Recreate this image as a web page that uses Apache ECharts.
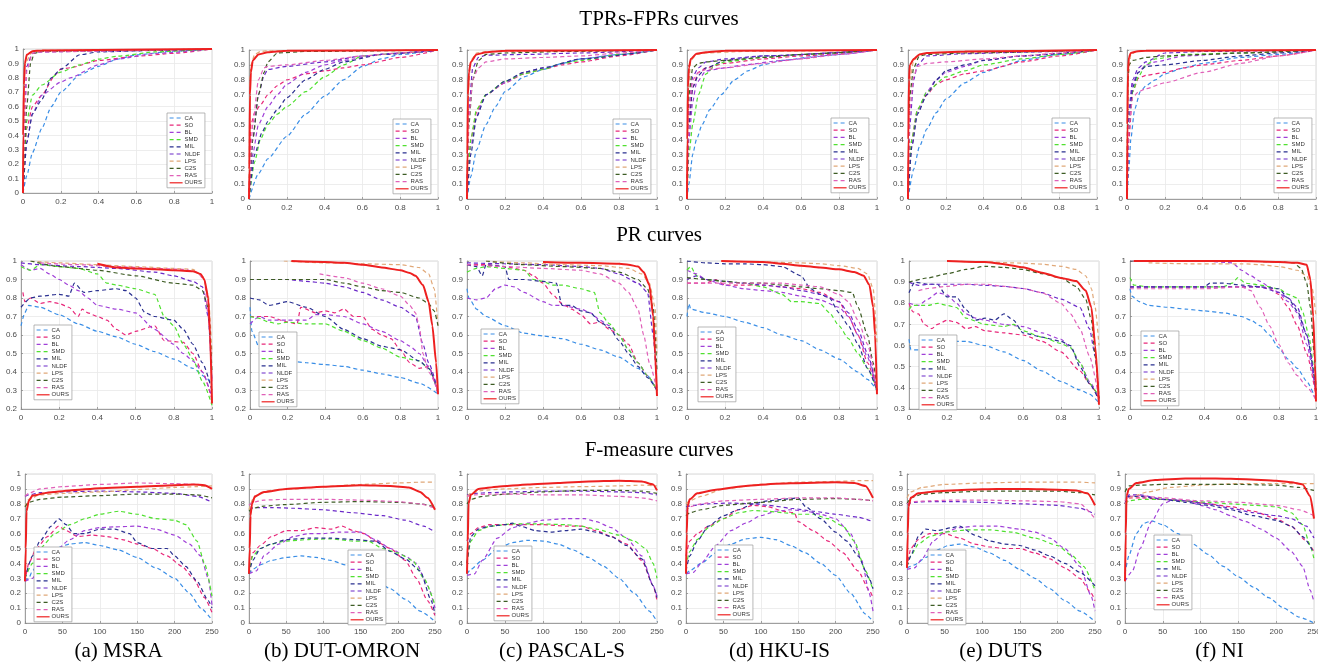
<!DOCTYPE html>
<html><head><meta charset="utf-8">
<script src="https://cdn.jsdelivr.net/npm/echarts@6/dist/echarts.min.js"></script>
<style>html,body{margin:0;padding:0;background:#fff}#c{width:1318px;height:670px}</style>
</head><body><div id="c"></div>
<script>
const methods = ['CA','SO','BL','SMD','MIL','NLDF','LPS','C2S','RAS','OURS'];
const colors = ['#3a8ee6','#e8287a','#a040d8','#50e030','#2a3090','#6a28c8','#e0a878','#3d5c24','#e060b8','#ee2020'];
const datasets = ['(a) MSRA','(b) DUT-OMRON','(c) PASCAL-S','(d) HKU-IS','(e) DUTS','(f) NI'];
const rowTitles = ['TPRs-FPRs curves','PR curves','F-measure curves'];
const xTicksRoc = [0,0.2,0.4,0.6,0.8,1];
const xTicksF = [0,50,100,150,200,250];

// ---------- TPR-FPR (ROC) ----------
const rocMSRA = [
 [[0,0],[0.02,0.12],[0.05,0.28],[0.1,0.45],[0.15,0.6],[0.2,0.7],[0.3,0.82],[0.4,0.88],[0.5,0.93],[0.6,0.96],[0.8,0.985],[1,1]],
 [[0,0],[0.02,0.45],[0.05,0.6],[0.1,0.68],[0.17,0.82],[0.2,0.86],[0.25,0.87],[0.4,0.92],[0.6,0.95],[0.8,0.97],[1,1]],
 [[0,0],[0.02,0.35],[0.05,0.55],[0.1,0.68],[0.2,0.77],[0.25,0.8],[0.4,0.89],[0.5,0.93],[0.7,0.97],[1,1]],
 [[0,0],[0.02,0.5],[0.05,0.68],[0.1,0.75],[0.2,0.84],[0.3,0.89],[0.4,0.93],[0.5,0.95],[0.7,0.98],[1,1]],
 [[0,0],[0.02,0.35],[0.05,0.55],[0.1,0.65],[0.15,0.8],[0.2,0.86],[0.3,0.96],[0.4,0.98],[0.7,0.99],[1,1]],
 [[0,0],[0.01,0.6],[0.02,0.88],[0.05,0.97],[0.1,0.98],[0.4,0.985],[1,1]],
 [[0,0],[0.005,0.6],[0.01,0.9],[0.05,0.98],[0.1,0.99],[1,1]],
 [[0,0],[0.02,0.6],[0.04,0.9],[0.06,0.97],[0.1,0.985],[1,1]],
 [[0,0],[0.01,0.5],[0.02,0.85],[0.05,0.97],[0.1,0.98],[1,1]],
 [[0,0],[0.001,0.4],[0.005,0.75],[0.01,0.9],[0.02,0.96],[0.05,0.985],[0.1,0.99],[1,1]]
];
const rocDUTO = [
 [[0,0],[0.05,0.17],[0.1,0.27],[0.2,0.42],[0.3,0.57],[0.4,0.69],[0.5,0.8],[0.6,0.89],[0.7,0.94],[0.8,0.97],[1,1]],
 [[0,0],[0.01,0.5],[0.03,0.58],[0.06,0.63],[0.1,0.7],[0.15,0.76],[0.2,0.8],[0.3,0.84],[0.4,0.86],[0.5,0.88],[0.6,0.9],[0.8,0.95],[1,1]],
 [[0,0],[0.02,0.3],[0.05,0.5],[0.1,0.62],[0.15,0.7],[0.2,0.77],[0.3,0.85],[0.4,0.9],[0.5,0.93],[0.7,0.97],[1,1]],
 [[0,0],[0.03,0.25],[0.06,0.4],[0.1,0.5],[0.15,0.57],[0.2,0.62],[0.3,0.72],[0.4,0.82],[0.5,0.9],[0.6,0.96],[0.8,0.98],[1,1]],
 [[0,0],[0.03,0.3],[0.07,0.45],[0.1,0.52],[0.15,0.6],[0.2,0.68],[0.3,0.8],[0.4,0.87],[0.5,0.92],[0.7,0.97],[1,1]],
 [[0,0],[0.02,0.4],[0.05,0.7],[0.08,0.83],[0.1,0.87],[0.2,0.89],[0.4,0.92],[0.6,0.96],[0.8,0.98],[1,1]],
 [[0,0],[0.005,0.8],[0.01,0.9],[0.03,0.97],[0.06,0.99],[0.1,0.995],[1,1]],
 [[0,0],[0.02,0.4],[0.05,0.7],[0.08,0.85],[0.1,0.92],[0.15,0.98],[0.3,0.99],[1,1]],
 [[0,0],[0.02,0.5],[0.05,0.8],[0.08,0.88],[0.1,0.89],[0.2,0.9],[0.4,0.93],[0.6,0.96],[0.8,0.98],[1,1]],
 [[0,0],[0.002,0.2],[0.005,0.7],[0.01,0.85],[0.02,0.93],[0.05,0.97],[0.1,0.985],[0.2,0.995],[1,1]]
];
const rocPASCAL = [
 [[0,0],[0.02,0.15],[0.05,0.33],[0.1,0.5],[0.15,0.62],[0.2,0.72],[0.3,0.82],[0.4,0.87],[0.5,0.91],[0.6,0.94],[0.8,0.97],[1,1]],
 [[0,0],[0.02,0.4],[0.05,0.58],[0.08,0.66],[0.1,0.7],[0.2,0.78],[0.3,0.84],[0.4,0.87],[0.5,0.9],[0.6,0.92],[0.8,0.96],[1,1]],
 [[0,0],[0.02,0.35],[0.05,0.55],[0.08,0.65],[0.1,0.7],[0.2,0.78],[0.3,0.85],[0.4,0.88],[0.6,0.94],[0.8,0.97],[1,1]],
 [[0,0],[0.02,0.4],[0.05,0.6],[0.1,0.7],[0.2,0.79],[0.3,0.84],[0.4,0.87],[0.5,0.91],[0.6,0.93],[0.8,0.97],[1,1]],
 [[0,0],[0.02,0.3],[0.05,0.55],[0.1,0.7],[0.2,0.79],[0.3,0.85],[0.4,0.88],[0.6,0.94],[1,1]],
 [[0,0],[0.01,0.6],[0.03,0.88],[0.06,0.95],[0.1,0.965],[0.3,0.97],[0.6,0.98],[1,1]],
 [[0,0],[0.005,0.7],[0.02,0.93],[0.05,0.98],[0.1,0.99],[1,1]],
 [[0,0],[0.01,0.5],[0.03,0.8],[0.06,0.93],[0.1,0.97],[0.2,0.98],[0.5,0.99],[1,1]],
 [[0,0],[0.01,0.55],[0.03,0.8],[0.06,0.88],[0.1,0.92],[0.2,0.94],[0.4,0.95],[0.6,0.96],[0.8,0.98],[1,1]],
 [[0,0],[0.002,0.3],[0.005,0.7],[0.01,0.85],[0.02,0.92],[0.05,0.97],[0.1,0.985],[0.2,0.995],[1,1]]
];
const rocHKU = [
 [[0,0],[0.01,0.1],[0.03,0.3],[0.05,0.4],[0.08,0.5],[0.12,0.6],[0.18,0.7],[0.25,0.8],[0.32,0.86],[0.4,0.9],[0.5,0.93],[0.7,0.96],[1,1]],
 [[0,0],[0.01,0.5],[0.03,0.75],[0.06,0.85],[0.1,0.88],[0.2,0.91],[0.4,0.94],[0.6,0.96],[1,1]],
 [[0,0],[0.01,0.4],[0.03,0.65],[0.05,0.78],[0.1,0.86],[0.2,0.88],[0.3,0.9],[0.5,0.93],[0.8,0.97],[1,1]],
 [[0,0],[0.01,0.3],[0.03,0.5],[0.06,0.7],[0.1,0.84],[0.15,0.9],[0.2,0.92],[0.4,0.95],[0.6,0.97],[1,1]],
 [[0,0],[0.01,0.5],[0.03,0.75],[0.06,0.83],[0.1,0.88],[0.2,0.93],[0.4,0.96],[1,1]],
 [[0,0],[0.01,0.6],[0.03,0.82],[0.06,0.88],[0.1,0.92],[0.2,0.94],[0.4,0.96],[1,1]],
 [[0,0],[0.005,0.7],[0.02,0.93],[0.05,0.97],[0.1,0.98],[0.3,0.99],[1,1]],
 [[0,0],[0.01,0.7],[0.03,0.88],[0.06,0.91],[0.1,0.92],[0.2,0.93],[0.4,0.95],[0.6,0.97],[1,1]],
 [[0,0],[0.01,0.6],[0.03,0.8],[0.06,0.85],[0.1,0.87],[0.2,0.88],[0.4,0.91],[0.6,0.94],[0.8,0.97],[1,1]],
 [[0,0],[0.002,0.4],[0.005,0.75],[0.01,0.88],[0.02,0.94],[0.05,0.975],[0.1,0.985],[0.2,0.995],[1,1]]
];
const rocDUTS = [
 [[0,0],[0.03,0.2],[0.06,0.35],[0.1,0.47],[0.15,0.58],[0.2,0.67],[0.3,0.78],[0.4,0.85],[0.5,0.89],[0.6,0.93],[0.8,0.97],[1,1]],
 [[0,0],[0.02,0.4],[0.05,0.6],[0.1,0.7],[0.15,0.77],[0.2,0.8],[0.3,0.84],[0.4,0.86],[0.6,0.92],[0.8,0.96],[1,1]],
 [[0,0],[0.02,0.35],[0.05,0.58],[0.1,0.72],[0.15,0.8],[0.2,0.85],[0.3,0.89],[0.4,0.93],[0.6,0.96],[1,1]],
 [[0,0],[0.02,0.4],[0.05,0.6],[0.1,0.72],[0.2,0.82],[0.3,0.86],[0.4,0.9],[0.6,0.94],[0.8,0.97],[1,1]],
 [[0,0],[0.02,0.35],[0.05,0.57],[0.1,0.7],[0.15,0.8],[0.2,0.86],[0.3,0.9],[0.4,0.93],[0.6,0.96],[1,1]],
 [[0,0],[0.01,0.5],[0.03,0.8],[0.05,0.9],[0.1,0.96],[0.3,0.975],[0.6,0.985],[1,1]],
 [[0,0],[0.01,0.8],[0.03,0.93],[0.06,0.97],[0.1,0.98],[0.4,0.99],[1,1]],
 [[0,0],[0.01,0.7],[0.03,0.88],[0.06,0.96],[0.1,0.97],[0.3,0.98],[1,1]],
 [[0,0],[0.01,0.6],[0.03,0.82],[0.05,0.89],[0.1,0.91],[0.2,0.92],[0.4,0.94],[0.6,0.96],[0.8,0.98],[1,1]],
 [[0,0],[0.002,0.4],[0.005,0.8],[0.01,0.9],[0.03,0.94],[0.06,0.97],[0.1,0.98],[0.3,0.99],[1,1]]
];
const rocNI = [
 [[0,0],[0.01,0.2],[0.02,0.4],[0.04,0.6],[0.07,0.72],[0.1,0.76],[0.15,0.8],[0.2,0.84],[0.3,0.88],[0.4,0.91],[0.6,0.95],[0.8,0.97],[1,1]],
 [[0,0],[0.01,0.4],[0.03,0.72],[0.06,0.81],[0.1,0.83],[0.2,0.85],[0.3,0.88],[0.4,0.9],[0.6,0.93],[0.8,0.96],[1,1]],
 [[0,0],[0.01,0.5],[0.03,0.78],[0.06,0.85],[0.1,0.9],[0.15,0.92],[0.3,0.96],[0.6,0.98],[1,1]],
 [[0,0],[0.01,0.5],[0.03,0.72],[0.06,0.82],[0.1,0.9],[0.15,0.94],[0.3,0.97],[0.6,0.98],[1,1]],
 [[0,0],[0.01,0.5],[0.03,0.75],[0.06,0.85],[0.1,0.89],[0.2,0.9],[0.4,0.93],[0.6,0.96],[0.8,0.98],[1,1]],
 [[0,0],[0.01,0.6],[0.03,0.8],[0.06,0.88],[0.1,0.92],[0.2,0.98],[0.4,0.99],[1,1]],
 [[0,0],[0.005,0.8],[0.02,0.97],[0.05,0.99],[0.1,0.995],[1,1]],
 [[0,0],[0.005,0.8],[0.01,0.9],[0.03,0.93],[0.1,0.95],[0.2,0.96],[0.4,0.97],[0.6,0.98],[1,1]],
 [[0,0],[0.01,0.5],[0.03,0.68],[0.06,0.72],[0.1,0.74],[0.2,0.78],[0.4,0.85],[0.6,0.91],[0.8,0.96],[1,1]],
 [[0,0],[0.002,0.5],[0.005,0.85],[0.01,0.95],[0.02,0.98],[0.05,0.99],[0.1,0.995],[1,1]]
];

// ---------- PR ----------
const prMSRA = [
 [[0,0.65],[0.02,0.72],[0.04,0.76],[0.1,0.75],[0.2,0.71],[0.3,0.66],[0.4,0.62],[0.5,0.59],[0.6,0.55],[0.7,0.51],[0.8,0.47],[0.9,0.42],[0.97,0.37],[1,0.33]],
 [[0.01,0.83],[0.02,0.78],[0.05,0.8],[0.1,0.77],[0.15,0.78],[0.2,0.77],[0.25,0.75],[0.3,0.7],[0.32,0.74],[0.35,0.72],[0.4,0.7],[0.45,0.68],[0.5,0.63],[0.55,0.6],[0.6,0.62],[0.7,0.65],[0.75,0.57],[0.85,0.56],[0.9,0.5],[0.95,0.4],[1,0.25]],
 [[0,0.98],[0.05,0.95],[0.1,0.96],[0.15,0.93],[0.2,0.9],[0.25,0.87],[0.3,0.84],[0.35,0.8],[0.4,0.76],[0.5,0.74],[0.6,0.72],[0.7,0.63],[0.8,0.55],[0.85,0.5],[0.9,0.46],[0.95,0.4],[1,0.26]],
 [[0,0.97],[0.02,0.96],[0.05,0.95],[0.1,0.98],[0.2,0.97],[0.3,0.96],[0.4,0.93],[0.45,0.88],[0.5,0.87],[0.6,0.85],[0.7,0.82],[0.75,0.7],[0.8,0.65],[0.85,0.55],[0.9,0.47],[0.95,0.35],[1,0.22]],
 [[0,0.75],[0.05,0.8],[0.1,0.81],[0.2,0.82],[0.25,0.81],[0.28,0.88],[0.33,0.83],[0.4,0.84],[0.5,0.85],[0.55,0.84],[0.6,0.8],[0.65,0.72],[0.7,0.7],[0.8,0.68],[0.85,0.63],[0.9,0.55],[0.95,0.45],[1,0.3]],
 [[0,0.99],[0.1,0.98],[0.3,0.97],[0.5,0.96],[0.7,0.94],[0.8,0.92],[0.9,0.89],[0.95,0.86],[0.98,0.7],[1,0.35]],
 [[0.05,1],[0.2,0.99],[0.4,0.98],[0.6,0.97],[0.8,0.96],[0.9,0.955],[0.95,0.92],[0.98,0.82],[1,0.5]],
 [[0.05,1],[0.2,0.97],[0.4,0.95],[0.6,0.92],[0.8,0.88],[0.9,0.87],[0.95,0.84],[0.98,0.75],[1,0.4]],
 [[0.1,0.99],[0.3,0.98],[0.5,0.97],[0.7,0.96],[0.85,0.955],[0.92,0.94],[0.96,0.9],[0.98,0.7],[1,0.35]],
 [[0.4,0.985],[0.5,0.965],[0.6,0.96],[0.7,0.955],[0.8,0.95],[0.9,0.945],[0.94,0.93],[0.96,0.9],[0.98,0.8],[0.99,0.6],[1,0.23]]
];
const prDUTO = [
 [[0,0.75],[0.01,0.62],[0.05,0.53],[0.1,0.5],[0.2,0.46],[0.3,0.45],[0.4,0.44],[0.5,0.43],[0.6,0.41],[0.7,0.39],[0.8,0.37],[0.9,0.34],[1,0.28]],
 [[0,0.7],[0.1,0.7],[0.2,0.67],[0.25,0.66],[0.27,0.75],[0.35,0.72],[0.4,0.73],[0.45,0.72],[0.5,0.74],[0.55,0.7],[0.6,0.7],[0.65,0.63],[0.7,0.6],[0.75,0.58],[0.8,0.52],[0.85,0.45],[0.9,0.42],[0.95,0.43],[1,0.29]],
 [[0,0.66],[0.05,0.7],[0.1,0.68],[0.2,0.68],[0.3,0.68],[0.35,0.71],[0.4,0.71],[0.5,0.7],[0.6,0.66],[0.7,0.62],[0.8,0.57],[0.85,0.54],[0.9,0.5],[0.95,0.43],[1,0.28]],
 [[0,0.7],[0.05,0.69],[0.1,0.67],[0.15,0.66],[0.2,0.67],[0.3,0.66],[0.4,0.66],[0.5,0.62],[0.6,0.57],[0.7,0.53],[0.8,0.48],[0.9,0.46],[0.95,0.42],[1,0.3]],
 [[0,0.8],[0.05,0.79],[0.1,0.76],[0.2,0.78],[0.3,0.75],[0.4,0.7],[0.5,0.63],[0.6,0.58],[0.7,0.54],[0.75,0.53],[0.8,0.52],[0.9,0.46],[0.95,0.42],[1,0.3]],
 [[0,0.9],[0.2,0.9],[0.3,0.89],[0.4,0.88],[0.5,0.86],[0.6,0.83],[0.7,0.79],[0.8,0.75],[0.88,0.7],[0.92,0.55],[0.95,0.45],[1,0.3]],
 [[0.18,1],[0.4,0.99],[0.6,0.985],[0.8,0.98],[0.9,0.965],[0.95,0.93],[0.98,0.85],[1,0.65]],
 [[0,0.9],[0.2,0.9],[0.4,0.9],[0.5,0.88],[0.6,0.86],[0.7,0.84],[0.8,0.83],[0.9,0.8],[0.95,0.77],[0.98,0.73],[1,0.65]],
 [[0.37,0.93],[0.5,0.91],[0.6,0.88],[0.7,0.85],[0.8,0.81],[0.85,0.76],[0.88,0.72],[0.9,0.65],[0.92,0.5],[0.95,0.4],[1,0.3]],
 [[0.22,1],[0.4,0.995],[0.5,0.99],[0.6,0.98],[0.7,0.965],[0.8,0.95],[0.85,0.935],[0.88,0.92],[0.92,0.87],[0.95,0.78],[0.97,0.65],[0.99,0.45],[1,0.28]]
];
const prPASCAL = [
 [[0,0.85],[0.01,0.8],[0.05,0.74],[0.1,0.7],[0.2,0.65],[0.3,0.61],[0.4,0.595],[0.5,0.58],[0.6,0.55],[0.7,0.52],[0.8,0.48],[0.9,0.42],[0.95,0.38],[1,0.3]],
 [[0,0.98],[0.1,0.98],[0.2,0.97],[0.3,0.95],[0.35,0.92],[0.4,0.88],[0.45,0.82],[0.5,0.77],[0.55,0.74],[0.6,0.71],[0.65,0.66],[0.7,0.67],[0.75,0.63],[0.8,0.6],[0.85,0.55],[0.9,0.45],[0.95,0.38],[1,0.3]],
 [[0,0.8],[0.05,0.79],[0.1,0.8],[0.15,0.85],[0.2,0.87],[0.25,0.86],[0.3,0.83],[0.4,0.78],[0.45,0.76],[0.5,0.76],[0.6,0.74],[0.65,0.72],[0.7,0.68],[0.75,0.65],[0.8,0.6],[0.85,0.52],[0.9,0.45],[0.95,0.38],[1,0.3]],
 [[0,0.94],[0.05,0.96],[0.1,0.97],[0.2,0.96],[0.3,0.95],[0.35,0.9],[0.4,0.89],[0.45,0.87],[0.5,0.87],[0.6,0.85],[0.67,0.83],[0.7,0.72],[0.75,0.66],[0.8,0.6],[0.85,0.52],[0.9,0.45],[0.95,0.38],[1,0.3]],
 [[0,0.98],[0.05,0.97],[0.08,0.92],[0.1,0.98],[0.2,0.97],[0.22,0.9],[0.3,0.9],[0.4,0.89],[0.47,0.88],[0.5,0.76],[0.55,0.76],[0.6,0.73],[0.65,0.72],[0.7,0.67],[0.75,0.64],[0.8,0.57],[0.85,0.5],[0.9,0.43],[0.95,0.37],[1,0.3]],
 [[0,0.99],[0.2,0.985],[0.4,0.98],[0.6,0.97],[0.7,0.96],[0.8,0.93],[0.9,0.88],[0.95,0.83],[0.98,0.6],[1,0.3]],
 [[0.1,1],[0.3,0.99],[0.5,0.98],[0.7,0.975],[0.85,0.96],[0.92,0.93],[0.96,0.88],[0.99,0.75],[1,0.5]],
 [[0.1,1],[0.3,0.98],[0.5,0.97],[0.7,0.96],[0.8,0.94],[0.9,0.9],[0.95,0.85],[0.98,0.75],[1,0.4]],
 [[0,0.98],[0.2,0.97],[0.4,0.96],[0.6,0.95],[0.7,0.93],[0.8,0.88],[0.85,0.83],[0.9,0.74],[0.93,0.6],[0.96,0.45],[1,0.3]],
 [[0.4,0.995],[0.6,0.99],[0.8,0.985],[0.85,0.98],[0.9,0.97],[0.93,0.94],[0.96,0.87],[0.98,0.7],[0.99,0.5],[1,0.27]]
];
const prHKU = [
 [[0,0.7],[0.01,0.77],[0.02,0.74],[0.1,0.72],[0.2,0.7],[0.3,0.67],[0.4,0.64],[0.5,0.6],[0.6,0.57],[0.7,0.52],[0.8,0.47],[0.9,0.4],[0.95,0.36],[1,0.3]],
 [[0,0.88],[0.05,0.88],[0.1,0.88],[0.15,0.9],[0.2,0.87],[0.3,0.87],[0.4,0.87],[0.5,0.86],[0.6,0.85],[0.7,0.83],[0.8,0.78],[0.85,0.7],[0.9,0.6],[0.95,0.45],[1,0.3]],
 [[0,0.95],[0.05,0.93],[0.1,0.9],[0.2,0.87],[0.3,0.85],[0.4,0.84],[0.5,0.83],[0.6,0.81],[0.7,0.79],[0.8,0.75],[0.85,0.7],[0.9,0.6],[0.95,0.48],[1,0.3]],
 [[0,0.95],[0.02,0.97],[0.05,0.92],[0.1,0.9],[0.2,0.89],[0.3,0.88],[0.4,0.86],[0.5,0.82],[0.55,0.78],[0.6,0.78],[0.7,0.77],[0.75,0.72],[0.8,0.65],[0.85,0.58],[0.9,0.5],[0.95,0.42],[1,0.3]],
 [[0,1],[0.1,0.99],[0.2,0.985],[0.3,0.985],[0.4,0.98],[0.5,0.97],[0.6,0.92],[0.65,0.85],[0.7,0.82],[0.75,0.8],[0.8,0.72],[0.85,0.65],[0.9,0.55],[0.95,0.42],[1,0.3]],
 [[0,0.9],[0.05,0.92],[0.1,0.9],[0.2,0.89],[0.3,0.88],[0.4,0.87],[0.5,0.86],[0.6,0.84],[0.7,0.82],[0.8,0.78],[0.85,0.72],[0.9,0.63],[0.95,0.5],[1,0.3]],
 [[0.2,1],[0.4,0.995],[0.6,0.99],[0.7,0.985],[0.8,0.975],[0.9,0.96],[0.95,0.93],[0.98,0.85],[1,0.55]],
 [[0,0.91],[0.1,0.9],[0.2,0.89],[0.3,0.88],[0.4,0.88],[0.5,0.87],[0.6,0.86],[0.7,0.85],[0.8,0.84],[0.87,0.83],[0.9,0.75],[0.95,0.6],[0.98,0.45],[1,0.3]],
 [[0,0.88],[0.1,0.88],[0.2,0.88],[0.3,0.88],[0.4,0.88],[0.5,0.88],[0.6,0.87],[0.7,0.86],[0.8,0.82],[0.85,0.78],[0.9,0.68],[0.95,0.55],[1,0.3]],
 [[0.18,1],[0.4,0.995],[0.5,0.985],[0.6,0.975],[0.7,0.965],[0.8,0.955],[0.88,0.94],[0.93,0.92],[0.96,0.87],[0.98,0.75],[0.99,0.6],[1,0.28]]
];
const prDUTS = [
 [[0,0.63],[0.01,0.58],[0.05,0.58],[0.1,0.6],[0.2,0.62],[0.3,0.62],[0.4,0.6],[0.5,0.57],[0.6,0.53],[0.7,0.48],[0.8,0.43],[0.9,0.39],[0.95,0.37],[1,0.33]],
 [[0,0.8],[0.02,0.76],[0.05,0.75],[0.08,0.7],[0.12,0.68],[0.15,0.7],[0.2,0.72],[0.25,0.71],[0.3,0.68],[0.35,0.69],[0.4,0.67],[0.5,0.66],[0.6,0.65],[0.7,0.62],[0.8,0.57],[0.9,0.48],[0.95,0.42],[1,0.35]],
 [[0,0.8],[0.05,0.79],[0.1,0.82],[0.15,0.85],[0.2,0.84],[0.25,0.8],[0.3,0.75],[0.35,0.73],[0.4,0.72],[0.5,0.7],[0.6,0.69],[0.7,0.66],[0.8,0.63],[0.85,0.59],[0.9,0.52],[0.95,0.43],[1,0.35]],
 [[0,0.77],[0.02,0.79],[0.1,0.79],[0.15,0.8],[0.2,0.79],[0.25,0.78],[0.3,0.73],[0.4,0.7],[0.5,0.69],[0.55,0.7],[0.6,0.67],[0.7,0.64],[0.8,0.61],[0.85,0.59],[0.9,0.52],[0.95,0.42],[1,0.36]],
 [[0,0.85],[0.03,0.9],[0.1,0.89],[0.15,0.89],[0.2,0.83],[0.25,0.83],[0.3,0.77],[0.35,0.72],[0.4,0.73],[0.45,0.72],[0.5,0.75],[0.55,0.72],[0.6,0.66],[0.7,0.64],[0.8,0.62],[0.85,0.6],[0.9,0.5],[0.95,0.42],[1,0.34]],
 [[0,0.9],[0.05,0.885],[0.1,0.89],[0.2,0.89],[0.3,0.89],[0.4,0.885],[0.5,0.88],[0.6,0.87],[0.7,0.85],[0.8,0.82],[0.9,0.78],[0.95,0.68],[0.98,0.55],[1,0.35]],
 [[0.2,1],[0.4,0.995],[0.6,0.99],[0.7,0.985],[0.8,0.975],[0.88,0.96],[0.93,0.93],[0.96,0.87],[0.98,0.78],[1,0.6]],
 [[0,0.9],[0.1,0.92],[0.2,0.94],[0.3,0.96],[0.4,0.975],[0.5,0.97],[0.6,0.96],[0.7,0.94],[0.8,0.92],[0.88,0.88],[0.93,0.82],[0.96,0.72],[0.98,0.55],[1,0.35]],
 [[0.05,0.86],[0.1,0.87],[0.2,0.88],[0.3,0.89],[0.4,0.89],[0.5,0.88],[0.6,0.87],[0.7,0.85],[0.8,0.8],[0.85,0.75],[0.9,0.68],[0.95,0.55],[1,0.35]],
 [[0.2,1],[0.4,0.995],[0.5,0.985],[0.6,0.97],[0.7,0.945],[0.8,0.92],[0.88,0.905],[0.93,0.86],[0.96,0.78],[0.98,0.6],[1,0.32]]
];
const prNI = [
 [[0,0.85],[0.01,0.81],[0.05,0.78],[0.1,0.76],[0.2,0.75],[0.3,0.74],[0.4,0.73],[0.5,0.72],[0.6,0.7],[0.65,0.68],[0.7,0.65],[0.75,0.6],[0.8,0.53],[0.85,0.47],[0.9,0.42],[0.95,0.35],[1,0.25]],
 [[0,0.86],[0.2,0.86],[0.4,0.86],[0.6,0.86],[0.7,0.86],[0.75,0.85],[0.8,0.82],[0.85,0.75],[0.9,0.65],[0.95,0.5],[1,0.27]],
 [[0,1],[0.2,1],[0.4,1],[0.55,0.99],[0.6,0.95],[0.65,0.92],[0.7,0.89],[0.75,0.86],[0.8,0.83],[0.85,0.78],[0.9,0.72],[0.95,0.55],[1,0.28]],
 [[0,0.91],[0.02,0.87],[0.1,0.86],[0.3,0.86],[0.5,0.86],[0.55,0.88],[0.58,0.91],[0.62,0.88],[0.7,0.87],[0.8,0.85],[0.85,0.82],[0.9,0.8],[0.93,0.72],[0.96,0.6],[1,0.3]],
 [[0,0.86],[0.2,0.86],[0.4,0.86],[0.43,0.88],[0.5,0.88],[0.6,0.87],[0.7,0.86],[0.8,0.85],[0.85,0.8],[0.9,0.73],[0.95,0.6],[1,0.3]],
 [[0,0.86],[0.2,0.86],[0.4,0.86],[0.6,0.86],[0.7,0.86],[0.8,0.83],[0.85,0.8],[0.9,0.75],[0.95,0.6],[1,0.3]],
 [[0.1,0.99],[0.3,0.985],[0.5,0.985],[0.6,0.985],[0.7,0.98],[0.8,0.97],[0.9,0.95],[0.95,0.92],[0.98,0.85],[1,0.7]],
 [[0,1],[0.3,1],[0.6,1],[0.8,0.995],[0.88,0.99],[0.92,0.96],[0.95,0.88],[0.97,0.75],[0.99,0.5],[1,0.3]],
 [[0,0.85],[0.2,0.85],[0.4,0.85],[0.6,0.86],[0.65,0.84],[0.7,0.75],[0.75,0.65],[0.8,0.55],[0.85,0.45],[0.9,0.38],[0.95,0.32],[1,0.25]],
 [[0.02,1],[0.3,1],[0.6,1],[0.8,0.995],[0.9,0.99],[0.95,0.98],[0.97,0.9],[0.985,0.7],[0.995,0.45],[1,0.24]]
];

// ---------- F-measure ----------
const fMSRA = [
 [[0,0.28],[5,0.3],[10,0.35],[20,0.42],[40,0.5],[60,0.53],[80,0.54],[100,0.52],[125,0.49],[150,0.44],[175,0.37],[200,0.3],[220,0.2],[235,0.1],[250,0.02]],
 [[0,0.28],[5,0.4],[15,0.5],[30,0.58],[45,0.65],[55,0.62],[70,0.58],[90,0.59],[110,0.58],[130,0.56],[150,0.53],[170,0.5],[190,0.45],[210,0.38],[225,0.3],[240,0.17],[250,0.07]],
 [[0,0.28],[10,0.3],[20,0.38],[40,0.48],[60,0.56],[80,0.62],[100,0.64],[120,0.645],[150,0.65],[175,0.63],[200,0.59],[220,0.53],[235,0.45],[245,0.3],[250,0.12]],
 [[0,0.3],[10,0.4],[20,0.5],[40,0.6],[60,0.66],[80,0.7],[100,0.73],[125,0.75],[150,0.73],[175,0.7],[200,0.69],[215,0.66],[230,0.55],[240,0.4],[250,0.18]],
 [[0,0.3],[10,0.45],[20,0.55],[35,0.65],[45,0.7],[55,0.66],[65,0.6],[80,0.6],[100,0.63],[120,0.63],[140,0.6],[150,0.54],[170,0.5],[190,0.5],[200,0.45],[215,0.38],[230,0.28],[245,0.15],[250,0.1]],
 [[0,0.85],[5,0.86],[20,0.875],[50,0.88],[100,0.885],[150,0.88],[200,0.87],[230,0.85],[250,0.81]],
 [[0,0.78],[5,0.83],[20,0.86],[50,0.87],[100,0.88],[150,0.895],[200,0.91],[230,0.915],[250,0.92]],
 [[0,0.78],[5,0.81],[20,0.83],[50,0.845],[100,0.855],[150,0.865],[200,0.865],[230,0.86],[250,0.84]],
 [[0,0.85],[5,0.87],[20,0.9],[50,0.915],[100,0.93],[150,0.94],[200,0.935],[230,0.93],[250,0.91]],
 [[0,0.28],[1,0.5],[2,0.75],[5,0.82],[10,0.855],[30,0.875],[60,0.89],[100,0.905],[150,0.915],[200,0.925],[225,0.93],[240,0.925],[250,0.9]]
];
const fDUTO = [
 [[0,0.33],[5,0.36],[15,0.39],[30,0.42],[50,0.44],[70,0.45],[90,0.44],[110,0.42],[130,0.39],[150,0.35],[170,0.29],[190,0.23],[210,0.16],[230,0.08],[250,0.01]],
 [[0,0.33],[5,0.47],[15,0.52],[30,0.58],[50,0.62],[70,0.62],[90,0.64],[110,0.63],[125,0.65],[140,0.62],[155,0.6],[170,0.55],[190,0.5],[210,0.42],[225,0.3],[240,0.15],[250,0.05]],
 [[0,0.33],[10,0.35],[20,0.45],[40,0.53],[60,0.58],[80,0.6],[100,0.6],[120,0.61],[150,0.61],[170,0.56],[190,0.5],[210,0.45],[225,0.4],[240,0.25],[250,0.1]],
 [[0,0.33],[5,0.45],[15,0.5],[30,0.53],[50,0.55],[80,0.56],[110,0.565],[140,0.55],[160,0.55],[180,0.5],[200,0.47],[220,0.42],[235,0.3],[250,0.12]],
 [[0,0.33],[5,0.42],[15,0.5],[30,0.53],[50,0.56],[80,0.57],[110,0.57],[140,0.56],[170,0.55],[190,0.48],[210,0.43],[230,0.35],[245,0.15],[250,0.06]],
 [[0,0.77],[10,0.775],[30,0.775],[60,0.77],[100,0.76],[140,0.74],[180,0.72],[210,0.69],[235,0.65],[250,0.61]],
 [[0,0.76],[5,0.83],[15,0.87],[30,0.89],[60,0.9],[100,0.915],[150,0.93],[200,0.94],[230,0.945],[250,0.945]],
 [[0,0.75],[5,0.77],[20,0.785],[50,0.795],[100,0.81],[150,0.815],[200,0.81],[230,0.8],[250,0.78]],
 [[0,0.79],[5,0.81],[20,0.825],[50,0.83],[100,0.83],[150,0.825],[200,0.815],[230,0.8],[250,0.77]],
 [[0,0.33],[1,0.5],[2,0.72],[4,0.8],[8,0.85],[20,0.88],[50,0.9],[100,0.915],[150,0.925],[190,0.92],[215,0.91],[230,0.88],[240,0.84],[250,0.76]]
];
const fPASCAL = [
 [[0,0.33],[5,0.36],[20,0.42],[40,0.5],[60,0.54],[80,0.555],[100,0.55],[120,0.53],[140,0.49],[160,0.44],[180,0.38],[200,0.3],[220,0.2],[240,0.08],[250,0.01]],
 [[0,0.55],[5,0.6],[15,0.64],[30,0.66],[50,0.66],[70,0.66],[100,0.66],[130,0.65],[150,0.65],[170,0.62],[190,0.58],[210,0.53],[230,0.42],[245,0.25],[250,0.15]],
 [[0,0.32],[10,0.33],[20,0.42],[40,0.57],[60,0.64],[80,0.67],[100,0.69],[130,0.7],[155,0.7],[170,0.68],[190,0.64],[210,0.57],[230,0.45],[245,0.25],[250,0.18]],
 [[0,0.4],[5,0.55],[15,0.62],[30,0.65],[60,0.665],[100,0.665],[130,0.66],[150,0.65],[170,0.63],[200,0.59],[220,0.55],[235,0.5],[245,0.4],[250,0.3]],
 [[0,0.4],[5,0.58],[15,0.63],[30,0.65],[50,0.66],[60,0.67],[70,0.65],[90,0.62],[110,0.61],[130,0.62],[150,0.63],[170,0.61],[190,0.58],[210,0.52],[230,0.43],[245,0.25],[250,0.17]],
 [[0,0.86],[10,0.87],[30,0.875],[60,0.88],[100,0.885],[150,0.885],[200,0.88],[230,0.875],[250,0.86]],
 [[0,0.85],[5,0.87],[20,0.89],[50,0.9],[100,0.91],[150,0.915],[200,0.92],[230,0.925],[250,0.92]],
 [[0,0.8],[5,0.83],[20,0.85],[50,0.865],[100,0.88],[150,0.89],[200,0.89],[230,0.885],[250,0.87]],
 [[0,0.85],[10,0.86],[30,0.865],[60,0.865],[100,0.86],[150,0.86],[200,0.85],[230,0.84],[250,0.82]],
 [[0,0.33],[1,0.55],[2,0.8],[5,0.86],[15,0.9],[40,0.915],[80,0.93],[120,0.94],[160,0.95],[200,0.955],[230,0.95],[245,0.93],[250,0.89]]
];
const fHKU = [
 [[0,0.33],[5,0.35],[20,0.4],[40,0.47],[60,0.53],[80,0.565],[100,0.575],[120,0.56],[140,0.52],[160,0.47],[180,0.4],[200,0.32],[220,0.2],[240,0.06],[250,0.01]],
 [[0,0.45],[5,0.55],[15,0.6],[30,0.65],[50,0.7],[70,0.76],[90,0.79],[110,0.78],[130,0.75],[145,0.74],[150,0.68],[170,0.62],[190,0.55],[210,0.47],[230,0.35],[245,0.22],[250,0.17]],
 [[0,0.33],[10,0.34],[20,0.4],[40,0.52],[60,0.62],[80,0.67],[100,0.72],[120,0.75],[140,0.76],[160,0.75],[180,0.73],[200,0.7],[220,0.6],[235,0.42],[245,0.2],[250,0.08]],
 [[0,0.38],[5,0.48],[15,0.56],[30,0.64],[50,0.7],[70,0.74],[90,0.755],[110,0.75],[130,0.74],[150,0.73],[170,0.73],[190,0.7],[210,0.65],[225,0.55],[240,0.35],[250,0.22]],
 [[0,0.35],[5,0.45],[15,0.55],[30,0.65],[50,0.72],[70,0.76],[90,0.8],[110,0.82],[130,0.83],[150,0.84],[160,0.78],[180,0.7],[200,0.61],[215,0.55],[230,0.45],[245,0.3],[250,0.23]],
 [[0,0.78],[10,0.79],[30,0.8],[60,0.805],[90,0.8],[110,0.79],[140,0.77],[170,0.75],[200,0.73],[230,0.71],[250,0.68]],
 [[0,0.8],[5,0.82],[20,0.85],[50,0.9],[100,0.93],[150,0.945],[200,0.95],[230,0.955],[250,0.955]],
 [[0,0.72],[5,0.74],[20,0.76],[50,0.79],[100,0.81],[150,0.83],[200,0.835],[230,0.83],[250,0.82]],
 [[0,0.75],[5,0.78],[20,0.8],[50,0.82],[100,0.83],[150,0.84],[200,0.84],[230,0.83],[250,0.82]],
 [[0,0.33],[1,0.6],[2,0.78],[5,0.83],[15,0.87],[40,0.895],[80,0.92],[120,0.935],[160,0.94],[200,0.945],[225,0.94],[240,0.92],[250,0.84]]
];
const fDUTS = [
 [[0,0.37],[10,0.39],[25,0.44],[40,0.49],[55,0.52],[70,0.53],[90,0.51],[110,0.47],[130,0.42],[150,0.36],[170,0.3],[190,0.23],[210,0.15],[230,0.08],[250,0.01]],
 [[0,0.37],[5,0.5],[15,0.56],[30,0.6],[50,0.6],[70,0.57],[90,0.53],[110,0.51],[130,0.5],[150,0.5],[170,0.47],[190,0.43],[210,0.37],[230,0.3],[245,0.2],[250,0.15]],
 [[0,0.36],[10,0.37],[20,0.43],[35,0.55],[50,0.61],[70,0.64],[90,0.65],[120,0.65],[150,0.63],[170,0.61],[190,0.57],[210,0.5],[230,0.38],[245,0.18],[250,0.08]],
 [[0,0.38],[5,0.45],[15,0.53],[30,0.58],[50,0.61],[80,0.625],[110,0.625],[140,0.61],[170,0.57],[200,0.52],[220,0.45],[235,0.38],[250,0.22]],
 [[0,0.38],[5,0.45],[15,0.58],[25,0.63],[40,0.62],[60,0.64],[70,0.65],[90,0.59],[110,0.55],[130,0.53],[150,0.52],[170,0.49],[190,0.45],[210,0.4],[230,0.34],[250,0.25]],
 [[0,0.8],[10,0.81],[30,0.815],[60,0.815],[100,0.81],[150,0.8],[200,0.79],[230,0.77],[250,0.73]],
 [[0,0.84],[5,0.88],[20,0.91],[50,0.93],[100,0.94],[150,0.945],[200,0.945],[230,0.945],[250,0.94]],
 [[0,0.8],[5,0.84],[20,0.865],[50,0.875],[100,0.885],[150,0.885],[200,0.885],[230,0.875],[250,0.86]],
 [[0,0.8],[10,0.815],[30,0.82],[60,0.825],[100,0.825],[150,0.82],[200,0.815],[230,0.8],[250,0.7]],
 [[0,0.37],[1,0.6],[2,0.78],[5,0.84],[15,0.87],[40,0.885],[80,0.895],[120,0.9],[160,0.9],[200,0.895],[225,0.89],[240,0.87],[250,0.79]]
];
const fNI = [
 [[0,0.33],[5,0.45],[15,0.6],[25,0.67],[35,0.685],[50,0.66],[70,0.6],[90,0.53],[110,0.46],[130,0.38],[150,0.31],[170,0.24],[190,0.17],[210,0.1],[230,0.04],[250,0]],
 [[0,0.8],[5,0.84],[20,0.84],[50,0.83],[80,0.82],[110,0.8],[140,0.78],[170,0.75],[200,0.7],[220,0.65],[240,0.55],[250,0.48]],
 [[0,0.28],[10,0.35],[20,0.5],[35,0.68],[50,0.8],[65,0.83],[80,0.82],[100,0.79],[120,0.76],[140,0.72],[160,0.68],[180,0.63],[200,0.57],[220,0.48],[235,0.38],[245,0.22],[250,0.14]],
 [[0,0.8],[5,0.82],[20,0.83],[50,0.83],[80,0.82],[110,0.81],[140,0.8],[170,0.79],[200,0.78],[220,0.74],[235,0.66],[245,0.52],[250,0.43]],
 [[0,0.8],[5,0.85],[20,0.85],[50,0.83],[80,0.81],[110,0.79],[140,0.76],[170,0.72],[200,0.69],[220,0.65],[235,0.58],[250,0.47]],
 [[0,0.8],[5,0.86],[20,0.86],[50,0.83],[80,0.82],[110,0.8],[140,0.77],[170,0.74],[200,0.72],[220,0.7],[240,0.65],[250,0.57]],
 [[0,0.8],[10,0.85],[30,0.88],[60,0.91],[100,0.925],[150,0.935],[200,0.935],[230,0.935],[250,0.935]],
 [[0,0.88],[5,0.92],[20,0.925],[50,0.93],[100,0.93],[150,0.93],[200,0.925],[230,0.91],[250,0.89]],
 [[0,0.82],[5,0.85],[20,0.855],[50,0.84],[100,0.82],[150,0.81],[200,0.79],[230,0.76],[250,0.72]],
 [[0,0.28],[1,0.6],[2,0.85],[5,0.9],[15,0.94],[40,0.96],[80,0.97],[120,0.97],[160,0.965],[200,0.955],[220,0.945],[235,0.93],[245,0.85],[250,0.7]]
];

const panelData = [
 rocMSRA, rocDUTO, rocPASCAL, rocHKU, rocDUTS, rocNI,
 prMSRA, prDUTO, prPASCAL, prHKU, prDUTS, prNI,
 fMSRA, fDUTO, fPASCAL, fHKU, fDUTS, fNI
];

// ---------- layout (pixels) ----------
const gridBoxes = [
 [23,49,189,144],[249,50,189,149],[467,50,190,149],[687,50,190,149],[908,50,189,149],[1127,50,189,149],
 [21,261,191,148],[250,261,188,148],[467,261,190,148],[687,261,190,148],[909,261,190,148],[1130,261,186,148],
 [25,474,187,149],[249,474,186,149],[467,474,190,149],[686,474,187,149],[907,474,188,149],[1125,474,189,149]
];
const legendPos = [
 [167,113],[393,119],[613,119],[831,118],[1052,118],[1274,118],
 [34,325],[259,332],[481,329],[698,327],[919,335],[1141,331],
 [34,547],[348,550],[494,546],[715,545],[928,550],[1154,535]
];
const rowTitleY = [19, 235, 450];
const labelY = 651;

const fontSans = '"Liberation Sans", Arial, sans-serif';
const fontSerif = '"Liberation Serif", "Times New Roman", serif';

const option = {animation:false, backgroundColor:'#fff', grid:[], xAxis:[], yAxis:[], series:[], legend:[], graphic:[]};

panelData.forEach((arr, i) => {
  const row = Math.floor(i/6);
  const [l,t,w,h] = gridBoxes[i];
  option.grid.push({left:l, top:t, width:w, height:h, show:true, borderColor:'#cfcfcf', borderWidth:0.8, backgroundColor:'#fff', outerBoundsMode:'none'});
  const isF = row === 2;
  option.xAxis.push({
    type:'value', gridIndex:i, min:0, max:isF?250:1, interval:isF?50:0.2,
    axisLine:{show:true, lineStyle:{color:'#8c8c8c', width:0.8}},
    axisTick:{show:true, inside:true, length:2, lineStyle:{color:'#8c8c8c', width:0.8}},
    axisLabel:{fontSize:8, color:'#4a4a4a', margin:5, fontFamily:fontSans, formatter:v=>String(Math.round(v*10)/10)},
    splitLine:{show:true, lineStyle:{color:'#e9e9e9', width:0.8}}
  });
  const ymin = (row===1) ? (i===10 ? 0.3 : 0.2) : 0;
  option.yAxis.push({
    type:'value', gridIndex:i, min:ymin, max:1, interval:0.1,
    axisLine:{show:true, lineStyle:{color:'#8c8c8c', width:0.8}},
    axisTick:{show:true, inside:true, length:2, lineStyle:{color:'#8c8c8c', width:0.8}},
    axisLabel:{fontSize:8, color:'#4a4a4a', margin:4, fontFamily:fontSans, formatter:v=>String(Math.round(v*10)/10)},
    splitLine:{show:true, lineStyle:{color:'#e9e9e9', width:0.8}}
  });
  arr.forEach((pts, k) => {
    const ours = k === 9;
    option.series.push({
      type:'line', name:methods[k], xAxisIndex:i, yAxisIndex:i, data:pts,
      showSymbol:false, symbol:'none', smooth:0.2, smoothMonotone:'x', silent:true, z: ours?4:2,
      lineStyle:{color:colors[k], width: ours?2:1.2, type: ours?'solid':[4,3]},
      itemStyle:{color:colors[k]}
    });
  });
  option.legend.push({
    left:legendPos[i][0], top:legendPos[i][1], orient:'vertical', data:methods.slice(),
    itemWidth:13, itemHeight:5, itemGap:1.2, padding:[2,3,2,2], selectedMode:false, z:10,
    backgroundColor:'#fff', borderColor:'#9a9a9a', borderWidth:0.7,
    itemStyle:{opacity:0, color:'rgba(0,0,0,0)', borderWidth:0},
    lineStyle:{width:1.2},
    textStyle:{fontSize:6, color:'#333', fontFamily:fontSans, padding:[0,0,0,-3]}
  });
});

rowTitles.forEach((txt, r) => {
  option.graphic.push({type:'text', x:659, y:rowTitleY[r], z:20,
    style:{text:txt, font:'21px ' + fontSerif, fill:'#000', align:'center', verticalAlign:'middle', textAlign:'center', textVerticalAlign:'middle'}});
});
datasets.forEach((txt, c) => {
  const [l,,w] = gridBoxes[12+c];
  option.graphic.push({type:'text', x:l + w/2, y:labelY, z:20,
    style:{text:txt, font:'21px ' + fontSerif, fill:'#000', align:'center', verticalAlign:'middle', textAlign:'center', textVerticalAlign:'middle'}});
});

const chart = echarts.init(document.getElementById('c'), null, {renderer:'canvas'});
chart.setOption(option);
</script>
</body></html>
